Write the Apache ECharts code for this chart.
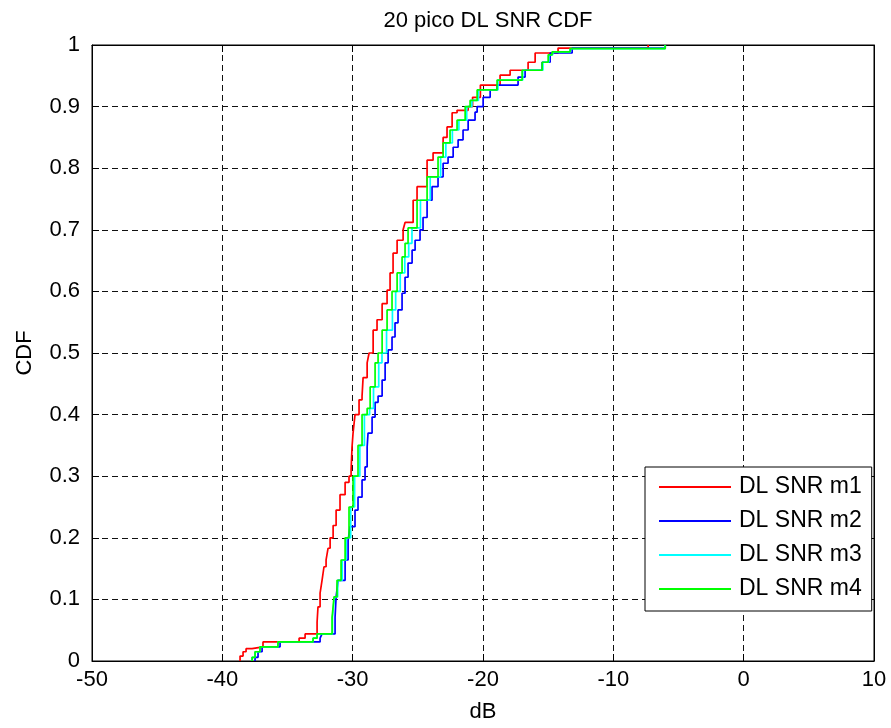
<!DOCTYPE html>
<html>
<head>
<meta charset="utf-8">
<script src="https://cdn.jsdelivr.net/npm/echarts@6/dist/echarts.min.js"></script>
<style>
  html, body { margin: 0; padding: 0; background: #fff; }
  #chart { width: 891px; height: 728px; }
</style>
</head>
<body>
<div id="chart"></div>
<script>
var m1 = [
  [-38.64, 0], [-38.64, 0.008], [-38.41, 0.015], [-38.18, 0.02], [-37.72, 0.023], [-36.88, 0.031],
  [-34.11, 0.037], [-33.65, 0.044], [-32.73, 0.063], [-32.66, 0.088], [-32.50, 0.110], [-32.35, 0.131],
  [-32.20, 0.153], [-32.04, 0.164], [-31.89, 0.183], [-31.73, 0.200], [-31.50, 0.220], [-31.27, 0.245],
  [-30.97, 0.270], [-30.58, 0.290], [-30.28, 0.300], [-30.12, 0.310], [-30.05, 0.347], [-29.97, 0.370],
  [-29.82, 0.400], [-29.51, 0.424], [-29.28, 0.430], [-29.20, 0.460], [-28.89, 0.484], [-28.74, 0.500],
  [-28.43, 0.537], [-28.13, 0.554], [-27.74, 0.580], [-27.36, 0.602], [-27.13, 0.630], [-26.90, 0.662],
  [-26.59, 0.683], [-26.13, 0.700], [-25.98, 0.712], [-25.36, 0.748], [-25.06, 0.770], [-24.29, 0.813],
  [-23.83, 0.825], [-23.06, 0.850], [-22.76, 0.867], [-22.37, 0.890], [-21.99, 0.894], [-21.14, 0.900],
  [-20.80, 0.915], [-20.20, 0.935], [-18.69, 0.951], [-17.92, 0.959], [-16.54, 0.972], [-16.00, 0.987],
  [-14.24, 0.995], [-7.33, 1.0]
]
var m2 = [
  [-37.49, 0], [-37.49, 0.006], [-37.26, 0.015], [-36.95, 0.023], [-35.57, 0.031], [-32.50, 0.037],
  [-32.35, 0.044], [-31.35, 0.071], [-31.27, 0.104], [-31.12, 0.131], [-30.58, 0.164], [-30.35, 0.196],
  [-30.20, 0.218], [-29.82, 0.245], [-29.59, 0.266], [-29.28, 0.294], [-29.05, 0.315], [-28.89, 0.347],
  [-28.82, 0.370], [-28.51, 0.396], [-28.28, 0.420], [-28.05, 0.430], [-27.74, 0.456], [-27.51, 0.484],
  [-27.28, 0.505], [-26.98, 0.526], [-26.75, 0.549], [-26.52, 0.570], [-26.21, 0.597], [-25.98, 0.623],
  [-25.75, 0.646], [-25.44, 0.667], [-25.21, 0.683], [-24.83, 0.700], [-24.60, 0.720], [-24.29, 0.748],
  [-23.91, 0.770], [-23.45, 0.786], [-23.06, 0.808], [-22.68, 0.818], [-22.29, 0.834], [-21.91, 0.846],
  [-21.53, 0.862], [-21.14, 0.878], [-20.61, 0.891], [-20.45, 0.900], [-19.99, 0.915], [-19.45, 0.927],
  [-18.92, 0.935], [-17.31, 0.948], [-16.77, 0.959], [-15.46, 0.972], [-14.85, 0.987], [-13.16, 0.995],
  [-6.02, 1.0]
]
var m3 = [
  [-37.72, 0], [-37.72, 0.006], [-37.49, 0.015], [-37.11, 0.023], [-35.73, 0.031], [-33.04, 0.037],
  [-32.73, 0.044], [-31.55, 0.071], [-31.40, 0.104], [-31.15, 0.131], [-30.80, 0.164], [-30.50, 0.200],
  [-30.15, 0.250], [-29.85, 0.300], [-29.45, 0.350], [-29.10, 0.400], [-28.70, 0.410], [-28.40, 0.445],
  [-28.00, 0.484], [-27.75, 0.500], [-27.40, 0.537], [-26.95, 0.570], [-26.70, 0.600], [-26.35, 0.630],
  [-26.00, 0.656], [-25.70, 0.678], [-25.45, 0.703], [-24.80, 0.748], [-24.05, 0.786], [-23.25, 0.818],
  [-22.85, 0.841], [-22.35, 0.862], [-21.85, 0.878], [-21.25, 0.900], [-20.85, 0.910], [-20.35, 0.927],
  [-18.85, 0.943], [-16.95, 0.959], [-15.40, 0.972], [-14.95, 0.984], [-14.65, 0.989], [-13.30, 0.994],
  [-6.02, 1.0]
]
var m4 = [
  [-37.72, 0], [-37.72, 0.006], [-37.49, 0.015], [-37.11, 0.023], [-35.73, 0.031], [-33.04, 0.037],
  [-32.73, 0.044], [-31.58, 0.071], [-31.43, 0.104], [-31.20, 0.131], [-30.89, 0.164], [-30.58, 0.200],
  [-30.28, 0.250], [-29.97, 0.300], [-29.59, 0.350], [-29.28, 0.400], [-28.89, 0.410], [-28.66, 0.445],
  [-28.28, 0.484], [-28.05, 0.500], [-27.74, 0.537], [-27.36, 0.570], [-26.98, 0.600], [-26.59, 0.630],
  [-26.21, 0.656], [-25.98, 0.678], [-25.75, 0.703], [-25.06, 0.748], [-24.29, 0.786], [-23.45, 0.818],
  [-23.06, 0.841], [-22.53, 0.862], [-21.99, 0.878], [-21.37, 0.900], [-20.99, 0.910], [-20.45, 0.927],
  [-18.92, 0.943], [-17.00, 0.959], [-15.46, 0.972], [-15.00, 0.984], [-14.70, 0.989], [-13.32, 0.994],
  [-6.02, 1.0]
]
var seriesNames = ['DL SNR m1', 'DL SNR m2', 'DL SNR m3', 'DL SNR m4']
var seriesColors = ['#ff0000', '#0000ff', '#00ffff', '#00ff00']
var seriesData = [m1, m2, m3, m4]

var font = 'Liberation Sans, Arial, sans-serif'
var dash = { color: '#111', width: 1, type: [6, 4] }

var chart = echarts.init(document.getElementById('chart'), null, { renderer: 'canvas' })

var series = seriesData.map(function (d, i) {
  return {
    name: seriesNames[i],
    type: 'line',
    step: 'end',
    data: d,
    showSymbol: false,
    symbol: 'none',
    animation: false,
    lineStyle: { color: seriesColors[i], width: 1.7 },
    itemStyle: { color: seriesColors[i] },
  }
})

chart.setOption({
  backgroundColor: '#fff',
  animation: false,
  title: {
    text: '20 pico DL SNR CDF',
    left: 483,
    top: 5,
    textAlign: 'center',
    textStyle: { fontFamily: font, fontSize: 22, fontWeight: 'normal', color: '#000' },
  },
  legend: {
    orient: 'vertical',
    left: 645,
    top: 467,
    data: seriesNames,
    icon: 'rect',
    itemWidth: 72,
    itemHeight: 2,
    itemGap: 10,
    padding: [8, 10, 10, 14],
    backgroundColor: '#fff',
    borderColor: '#000',
    borderWidth: 1,
    textStyle: { fontFamily: font, fontSize: 23, color: '#000', lineHeight: 24, padding: [0, 0, 0, 3] },
  },
  grid: {
    left: 92,
    right: 17,
    top: 45,
    bottom: 67,
    show: true,
    borderColor: '#000',
    borderWidth: 1,
  },
  xAxis: [
    {
      type: 'value',
      min: -50,
      max: 10,
      interval: 10,
      name: 'dB',
      nameLocation: 'middle',
      nameGap: 40,
      nameTextStyle: { fontFamily: font, fontSize: 22, color: '#000' },
      axisLine: { onZero: false, lineStyle: { color: '#000', width: 1 } },
      axisTick: { inside: true, length: 7, lineStyle: { color: '#000' } },
      axisLabel: { fontFamily: font, fontSize: 22, color: '#000', margin: 8 },
      splitLine: { show: true, lineStyle: dash },
    },
    {
      type: 'value',
      position: 'top',
      min: -50,
      max: 10,
      interval: 10,
      axisLine: { onZero: false, lineStyle: { color: '#000', width: 1 } },
      axisTick: { inside: true, length: 7, lineStyle: { color: '#000' } },
      axisLabel: { show: false },
      splitLine: { show: false },
    },
  ],
  yAxis: [
    {
      type: 'value',
      min: 0,
      max: 1,
      interval: 0.1,
      name: 'CDF',
      nameLocation: 'middle',
      nameGap: 56,
      nameTextStyle: { fontFamily: font, fontSize: 22, color: '#000' },
      axisLine: { show: true, onZero: false, lineStyle: { color: '#000', width: 1 } },
      axisTick: { show: true, inside: true, length: 7, lineStyle: { color: '#000' } },
      axisLabel: {
        fontFamily: font,
        fontSize: 22,
        color: '#000',
        margin: 12,
        formatter: function (v) { return String(Math.round(v * 10) / 10) },
      },
      splitLine: { show: true, lineStyle: dash },
    },
    {
      type: 'value',
      position: 'right',
      min: 0,
      max: 1,
      interval: 0.1,
      axisLine: { show: true, onZero: false, lineStyle: { color: '#000', width: 1 } },
      axisTick: { show: true, inside: true, length: 7, lineStyle: { color: '#000' } },
      axisLabel: { show: false },
      splitLine: { show: false },
    },
  ],
  series: series,
})
</script>
</body>
</html>
